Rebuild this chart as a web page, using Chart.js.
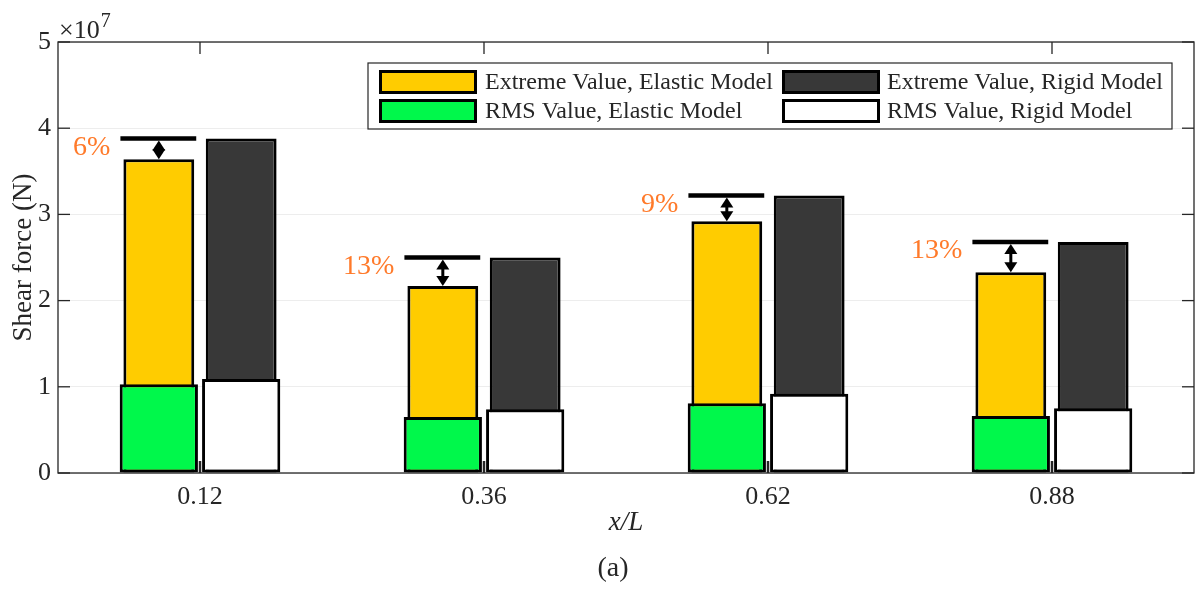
<!DOCTYPE html>
<html>
<head>
<meta charset="utf-8">
<script src="https://cdn.jsdelivr.net/npm/chart.js@4/dist/chart.umd.min.js"></script>
<style>
  html, body { margin: 0; padding: 0; background: #ffffff; }
  canvas { display: block; }
</style>
</head>
<body>
<canvas id="chart" width="1203" height="590"></canvas>
<script>
// Positions along the member (x/L)
const categories = ['0.12', '0.36', '0.62', '0.88'];

// Shear force values (N)
const extremeElastic = [3.64e7, 2.17e7, 2.92e7, 2.33e7];
const extremeRigid   = [3.88e7, 2.50e7, 3.22e7, 2.68e7];
const rmsElastic     = [1.03e7, 0.65e7, 0.81e7, 0.66e7];
const rmsRigid       = [1.09e7, 0.74e7, 0.92e7, 0.75e7];

// Y axis range and the shared exponent shown above it
const yMin = 0, yMax = 5e7, yStep = 1e7;
const yExponent = 7;

const seriesLabels = [
  'Extreme Value, Elastic Model',
  'Extreme Value, Rigid Model',
  'RMS Value, Elastic Model',
  'RMS Value, Rigid Model'
];
const seriesColors = ['#FFCC00', '#383838', '#00F84B', '#FFFFFF'];

const SERIF = '"Liberation Serif", "Times New Roman", serif';
const AXIS_COLOR = '#262626';

// Reduction of the elastic extreme value relative to the rigid one
const reductionLabels = extremeElastic.map((v, i) =>
  Math.round((1 - v / extremeRigid[i]) * 100) + '%');

function line(ctx, x1, y1, x2, y2) {
  ctx.beginPath(); ctx.moveTo(x1, y1); ctx.lineTo(x2, y2); ctx.stroke();
}

const decorations = {
  id: 'decorations',
  afterDraw(chart) {
    const ctx = chart.ctx;
    const a = chart.chartArea;
    const xs = chart.scales.x, ys = chart.scales.y;
    ctx.save();

    // Axis box with inward ticks
    ctx.strokeStyle = AXIS_COLOR;
    ctx.lineWidth = 1.3;
    ctx.strokeRect(a.left, a.top, a.right - a.left, a.bottom - a.top);
    ys.ticks.forEach(t => {
      const y = ys.getPixelForValue(t.value);
      line(ctx, a.left, y, a.left + 12, y);
      line(ctx, a.right - 12, y, a.right, y);
    });
    categories.forEach((c, i) => {
      const x = xs.getPixelForValue(i);
      ctx.lineWidth = 1.3;
      line(ctx, x, a.top, x, a.top + 12);
      ctx.lineWidth = 2.5;
      line(ctx, x, a.bottom, x, a.bottom - 12);
    });

    // Exponent label
    ctx.fillStyle = AXIS_COLOR;
    ctx.textAlign = 'left';
    ctx.textBaseline = 'alphabetic';
    ctx.font = '26px ' + SERIF;
    ctx.fillText('\u00D710', 59, 38);
    const w10 = ctx.measureText('\u00D710').width;
    ctx.font = '20px ' + SERIF;
    ctx.fillText(String(yExponent), 59 + w10 + 1, 27);

    // Axis titles and panel tag
    ctx.save();
    ctx.translate(24, (a.top + a.bottom) / 2);
    ctx.rotate(-Math.PI / 2);
    ctx.textAlign = 'center';
    ctx.textBaseline = 'middle';
    ctx.font = '27px ' + SERIF;
    ctx.fillText('Shear force (N)', 0, 0);
    ctx.restore();

    ctx.textAlign = 'center';
    ctx.textBaseline = 'middle';
    ctx.font = 'italic 27px ' + SERIF;
    ctx.fillText('x/L', (a.left + a.right) / 2, 523);
    ctx.font = '28px ' + SERIF;
    ctx.fillText('(a)', 613, 569);

    // Reduction markers: bar at rigid level, double arrow to elastic top, percentage
    const elasticMeta = chart.getDatasetMeta(0);
    const rigidMeta = chart.getDatasetMeta(1);
    elasticMeta.data.forEach((bar, i) => {
      const half = bar.width / 2;
      const yTop = rigidMeta.data[i].y;
      const x0 = bar.x - half - 3, x1 = bar.x + half + 2;
      ctx.strokeStyle = '#000000';
      ctx.lineWidth = 4.5;
      line(ctx, x0, yTop, x1, yTop);

      const ya = yTop + 2, yb = bar.y;
      ctx.lineWidth = 3;
      line(ctx, bar.x, ya + 6, bar.x, yb - 6);
      ctx.fillStyle = '#000000';
      ctx.beginPath();
      ctx.moveTo(bar.x, ya); ctx.lineTo(bar.x - 6.5, ya + 10); ctx.lineTo(bar.x + 6.5, ya + 10);
      ctx.closePath(); ctx.fill();
      ctx.beginPath();
      ctx.moveTo(bar.x, yb); ctx.lineTo(bar.x - 6.5, yb - 10); ctx.lineTo(bar.x + 6.5, yb - 10);
      ctx.closePath(); ctx.fill();

      ctx.fillStyle = '#FF7A2A';
      ctx.font = '28px ' + SERIF;
      ctx.textAlign = 'right';
      ctx.textBaseline = 'middle';
      ctx.fillText(reductionLabels[i], x0 - 10, yTop + 9);
    });

    // Legend, two columns
    const lg = { left: 368, top: 63, right: 1172, bottom: 129 };
    ctx.fillStyle = '#FFFFFF';
    ctx.fillRect(lg.left, lg.top, lg.right - lg.left, lg.bottom - lg.top);
    ctx.strokeStyle = AXIS_COLOR;
    ctx.lineWidth = 1.2;
    ctx.strokeRect(lg.left, lg.top, lg.right - lg.left, lg.bottom - lg.top);
    const cols = [{ sw: 379, tx: 485 }, { sw: 782, tx: 887 }];
    const rows = [82, 111];
    seriesLabels.forEach((label, k) => {
      const c = cols[k % 2], r = rows[Math.floor(k / 2)];
      ctx.fillStyle = seriesColors[k];
      ctx.fillRect(c.sw, r - 12, 98, 24);
      ctx.strokeStyle = '#000000';
      ctx.lineWidth = 3;
      ctx.strokeRect(c.sw + 1.5, r - 10.5, 95, 21);
      ctx.fillStyle = AXIS_COLOR;
      ctx.font = '24px ' + SERIF;
      ctx.textAlign = 'left';
      ctx.textBaseline = 'middle';
      ctx.fillText(label, c.tx, r + 1);
    });

    ctx.restore();
  }
};

const barCommon = {
  borderColor: '#000000',
  borderWidth: 3,
  borderSkipped: false,
  categoryPercentage: 0.58
};

new Chart(document.getElementById('chart'), {
  type: 'bar',
  data: {
    labels: categories,
    datasets: [
      Object.assign({ label: seriesLabels[0], data: extremeElastic, backgroundColor: seriesColors[0], stack: 'elastic', order: 1, barPercentage: 0.86 }, barCommon),
      Object.assign({ label: seriesLabels[1], data: extremeRigid, backgroundColor: seriesColors[1], stack: 'rigid', order: 1, barPercentage: 0.86 }, barCommon),
      Object.assign({ label: seriesLabels[2], data: rmsElastic, backgroundColor: seriesColors[2], stack: 'elastic', order: 0, barPercentage: 0.95 }, barCommon),
      Object.assign({ label: seriesLabels[3], data: rmsRigid, backgroundColor: seriesColors[3], stack: 'rigid', order: 0, barPercentage: 0.95 }, barCommon)
    ]
  },
  options: {
    responsive: false,
    animation: false,
    layout: { padding: { left: 0, top: 42, right: 9, bottom: 0 } },
    plugins: { legend: { display: false }, tooltip: { enabled: false } },
    scales: {
      x: {
        stacked: true,
        offset: true,
        grid: { display: false, drawTicks: false },
        border: { display: false },
        ticks: { color: AXIS_COLOR, font: { family: SERIF, size: 26 }, padding: 9, maxRotation: 0 },
        afterFit(scale) { scale.height = 117; }
      },
      y: {
        stacked: false,
        min: yMin,
        max: yMax,
        grid: { color: '#EDEDED', lineWidth: 1, drawTicks: false },
        border: { display: false },
        ticks: {
          stepSize: yStep,
          padding: 7,
          color: AXIS_COLOR,
          font: { family: SERIF, size: 26 },
          callback: v => String(Math.round(v / Math.pow(10, yExponent)))
        },
        afterFit(scale) { scale.width = 58; }
      }
    }
  },
  plugins: [decorations]
});
</script>
</body>
</html>
